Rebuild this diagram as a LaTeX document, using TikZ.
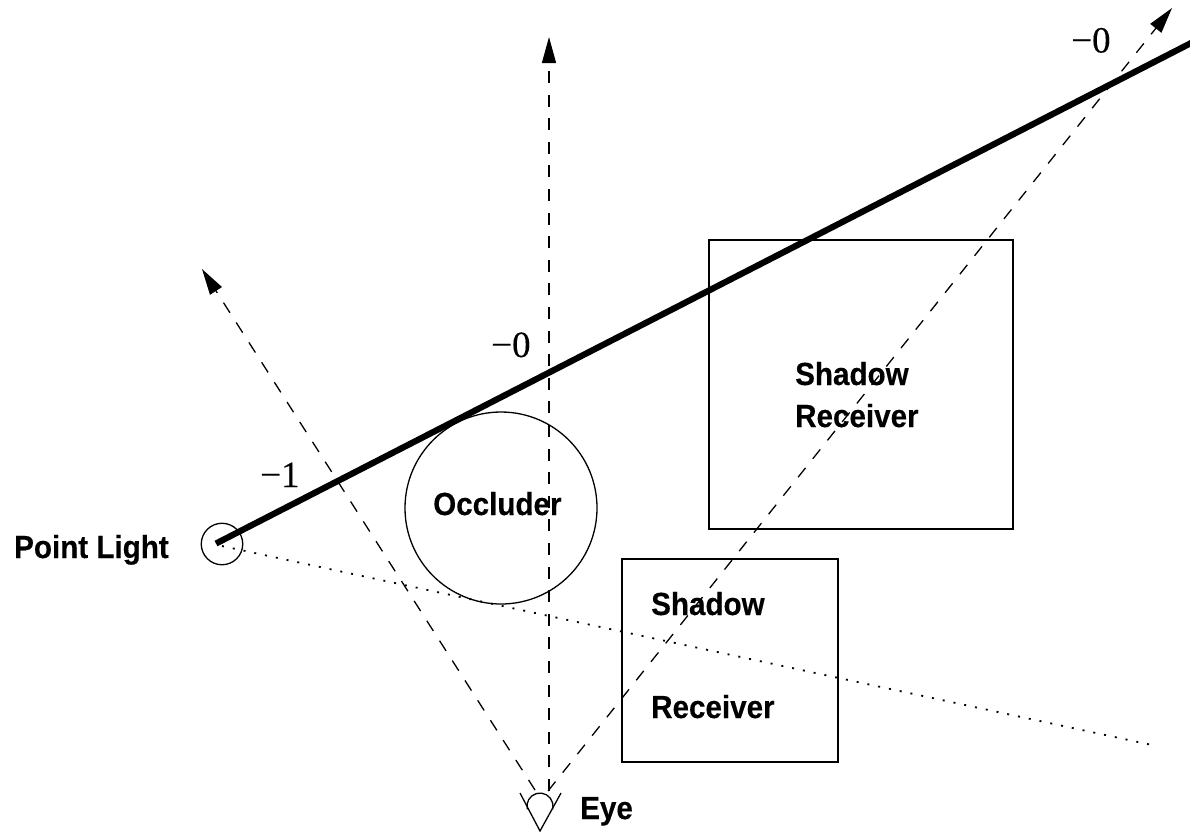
\documentclass[tikz,border=0pt]{standalone}
\usepackage{fontspec}
\setmainfont{Liberation Sans}[FakeStretch=0.925,BoldFeatures={FakeBold=0.3}]
\newfontfamily\numfont{Liberation Serif}[FakeBold=0.3]
\usetikzlibrary{arrows.meta}
\tikzset{
  lbl/.style={anchor=base west,inner sep=0pt,font=\fontsize{32}{34}\selectfont\bfseries},
  num/.style={anchor=base west,inner sep=0pt,font=\fontsize{37}{39}\selectfont\numfont},
  thin line/.style={line width=1.3pt,black},
  ray/.style={line width=1.3pt,dash pattern=on 12pt off 11.6pt,-{Triangle[length=26pt,width=14pt]}},
  dotray/.style={line width=1.8pt,dash pattern=on 2pt off 9pt},
  beam/.style={line width=6.2pt},
}
\begin{document}
\begin{tikzpicture}[x=1pt,y=-1pt]
\useasboundingbox (0,0) rectangle (1190,831);
\clip (0,0) rectangle (1190,831);
\coordinate (eyeA) at (549,791);
\coordinate (eyeB) at (535,790);
\coordinate (eyeC) at (548,791);
\coordinate (tipA) at (549,37);
\coordinate (tipB) at (202,269);
\coordinate (tipC) at (1172,8);
\coordinate (lightc) at (216,543.5);
\coordinate (beamend) at (1195,41);
\coordinate (dotstart) at (222,546);
\coordinate (dotend) at (1152,745);
\coordinate (vl) at (520,793);
\coordinate (vb) at (540,831);
\coordinate (vr) at (561,793);
\node[draw,thin line,circle,minimum size=41.5pt,inner sep=0pt] (light) at (222,544) {};
\node[draw,thin line,circle,minimum size=192pt,inner sep=0pt] (occ) at (501,508) {};
\node[draw,thin line,rectangle,minimum width=304pt,minimum height=289pt,inner sep=0pt] (rectA) at (861,384.5) {};
\node[draw,thin line,rectangle,minimum width=216pt,minimum height=203pt,inner sep=0pt] (rectB) at (730,660.5) {};
\draw[ray] (eyeA) -- (tipA);
\draw[ray] (eyeB) -- (tipB);
\draw[ray] (eyeC) -- (tipC);
\draw[dotray] (dotstart) -- (dotend);
\draw[beam] (lightc) -- (beamend);
\draw[thin line] (vl) -- (vb) -- (vr);
\draw[thin line] (527.4,809.4) arc[start angle=165,end angle=375,radius=13];
\node[lbl] (t1) at (14,558) {Point Light};
\node[lbl] (t2) at (433,515) {Occluder};
\node[lbl] (t3) at (795,385) {Shadow};
\node[lbl] (t4) at (795,427) {Receiver};
\node[lbl] (t5) at (651,615) {Shadow};
\node[lbl] (t6) at (651,718) {Receiver};
\node[lbl] (t7) at (580,819) {Eye};
\node[num] (n1) at (260,487) {−1};
\node[num] (n2) at (491,357) {−0};
\node[num] (n3) at (1071,52.5) {−0};
\end{tikzpicture}
\end{document}
